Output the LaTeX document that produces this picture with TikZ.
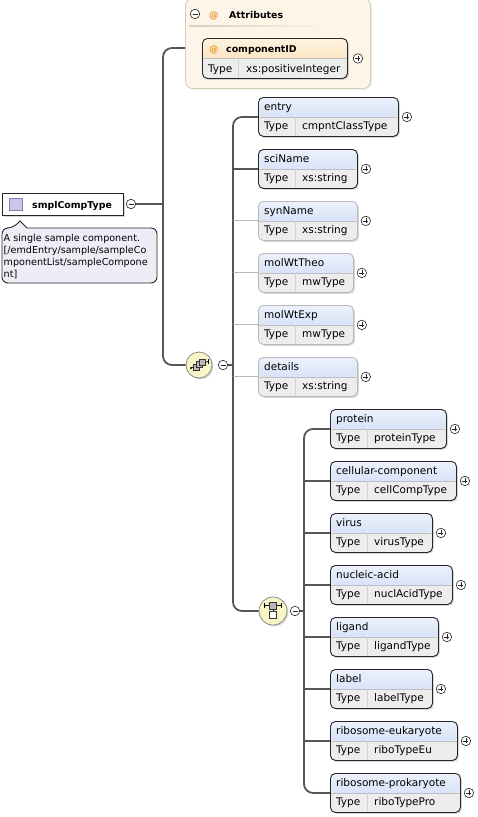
\documentclass[tikz,border=0pt]{standalone}
\usepackage{fontspec}
\setmainfont{DejaVu Sans}
\usetikzlibrary{shadows}
\definecolor{hdtop}{HTML}{EDF2FC}
\definecolor{hdbot}{HTML}{C3D5F2}
\definecolor{rowg}{HTML}{EDEDED}
\definecolor{divg}{HTML}{D2D2D2}
\definecolor{atop}{HTML}{FEF4E3}
\definecolor{abot}{HTML}{F9D7A0}
\definecolor{attrfill}{HTML}{FCF5E8}
\definecolor{attrline}{HTML}{D8CDB8}
\definecolor{orangeat}{HTML}{E8962A}
\definecolor{icofill}{HTML}{FAF5C6}
\definecolor{annfill}{HTML}{EEECF6}
\definecolor{purp}{HTML}{CEC3EA}
\definecolor{purpl}{HTML}{8A7BB5}
\definecolor{lineg}{HTML}{555555}
\definecolor{optl}{HTML}{B8B8B8}
\tikzset{
  sh/.style={drop shadow={shadow xshift=1.4pt, shadow yshift=-1.4pt, opacity=0.3}},
  elem/.style={draw=black!85, line width=0.9pt, rounded corners=5pt, minimum height=39pt,
    inner sep=0pt, anchor=north west, fill=rowg, sh,
    path picture={
      \shade[top color=hdtop, bottom color=hdbot] ([yshift=1pt]path picture bounding box.north west) rectangle ([yshift=-19.5pt]path picture bounding box.north east);
      \draw[black!25, line width=0.5pt] ([yshift=-19.5pt]path picture bounding box.north west) -- ([yshift=-19.5pt]path picture bounding box.north east);
      \draw[divg, line width=0.7pt] ([xshift=37pt,yshift=-19.5pt]path picture bounding box.north west) -- ([xshift=37pt]path picture bounding box.south west);
    }},
  optelem/.style={elem, draw=optl, line width=0.8pt},
  attrel/.style={draw=black!85, line width=0.9pt, rounded corners=5pt, minimum height=40pt,
    inner sep=0pt, anchor=north west, fill=rowg, sh,
    path picture={
      \shade[top color=atop, bottom color=abot] ([yshift=1pt]path picture bounding box.north west) rectangle ([yshift=-20pt]path picture bounding box.north east);
      \draw[black!25, line width=0.5pt] ([yshift=-20pt]path picture bounding box.north west) -- ([yshift=-20pt]path picture bounding box.north east);
      \draw[divg, line width=0.7pt] ([xshift=36pt,yshift=-20pt]path picture bounding box.north west) -- ([xshift=36pt]path picture bounding box.south west);
    }},
  hd/.style={anchor=base west, inner sep=0pt, font=\fontsize{10.5}{12}\selectfont, text=black},
  hdb/.style={anchor=base west, inner sep=0pt, font=\fontsize{9.4}{12}\selectfont\bfseries, text=black},
  pm/.style={circle, draw=black!85, line width=0.6pt, fill=white, minimum size=9.5pt, inner sep=0pt},
  plus/.style={pm, path picture={\draw[line width=0.6pt]
      ([xshift=-2.5pt]path picture bounding box.center) -- ([xshift=2.5pt]path picture bounding box.center)
      ([yshift=-2.5pt]path picture bounding box.center) -- ([yshift=2.5pt]path picture bounding box.center);}},
  minus/.style={pm, path picture={\draw[line width=0.6pt]
      ([xshift=-2.5pt]path picture bounding box.center) -- ([xshift=2.5pt]path picture bounding box.center);}},
  conn/.style={draw=lineg, line width=1.8pt},
  optconn/.style={draw=optl, line width=0.9pt},
  icon/.style={circle, draw=black!45, line width=0.8pt, fill=icofill, inner sep=0pt, sh},
  sq/.style={fill=gray!55, draw=black!80, line width=0.5pt},
}
\newcommand{\xelem}[7]{%
  \node[#1, minimum width=#5pt] (#2) at (#3,#4) {};
  \node[hd] at ([xshift=6pt,yshift=-13.5pt]#2.north west) {#6};
  \node[hd] at ([xshift=6pt,yshift=-32.5pt]#2.north west) {Type};
  \node[hd] at ([xshift=44pt,yshift=-32.5pt]#2.north west) {#7};
  \node[plus] (#2p) at ([xshift=8pt]#2.east) {};
}
\begin{document}
\begin{tikzpicture}[x=1pt,y=-1pt]
\useasboundingbox (0,0) rectangle (478,817);
\fill[white] (0,0) rectangle (478,817);

% Attributes container
\node[draw=attrline, fill=attrfill, line width=0.9pt, rounded corners=7pt, minimum width=185pt,
  minimum height=90pt, anchor=north west, inner sep=0pt,
  drop shadow={shadow xshift=1.3pt, shadow yshift=-1.3pt, opacity=0.12}] (attr) at (185,-2) {};
\node[minus] (attrm) at (195,14) {};
\node[hdb, text=orangeat] at (209,18) {@};
\node[hdb] at (229,18) {Attributes};
\shade[left color=attrline, right color=attrfill] (189,25) rectangle (326,26.2);

% componentID
\node[attrel, minimum width=145pt] (cid) at (202,38) {};
\node[hdb, text=orangeat] at (209,52) {@};
\node[hdb] at (226,52) {componentID};
\node[hd] at (208,72.5) {Type};
\node[hd] at (246,72.5) {xs:positiveInteger};
\node[plus] (cidp) at ([xshift=10pt]cid.east) {};

% root
\node[draw=black!85, line width=0.9pt, fill=white, minimum width=121pt, minimum height=22pt,
  anchor=north west, inner sep=0pt, sh] (root) at (2,193) {};
\node[draw=purpl, fill=purp, line width=0.6pt, minimum size=12.5pt, inner sep=0pt] (rooticon) at (16,204.5) {};
\node[hdb] at (32,208.5) {smplCompType};
\node[minus] (rootm) at (131,204) {};

% annotation
\draw[draw=black!85, fill=annfill, line width=0.9pt, rounded corners=6pt]
  (2,255) -- (2,228) -- (13,228) [sharp corners] -- (20,221) -- (27,228) [rounded corners=6pt]
  -- (157,228) -- (157,283) -- (2,283) -- cycle;
\node[anchor=north west, inner sep=0pt, align=left, font=\fontsize{9.6}{12}\selectfont, text=black] (ann) at (3.5,234)
  {A single sample component.\\ {[}/emdEntry/sample/sampleCo\\ mponentList/sampleCompone\\ nt{]}};

% sequence icon
\node[icon, minimum size=26pt] (seq) at (199,365) {};
\begin{scope}[shift={(seq.center)}]
  \draw[line width=0.7pt] (-8,3) -- (9,-3.5);
  \fill (-8,3) circle (1.2);
  \draw[line width=0.7pt] (9,-6) -- (9,-1);
  \filldraw[sq] (-6,-1) rectangle (0,5);
  \filldraw[sq] (-3,-3.5) rectangle (3,2.5);
  \filldraw[sq] (0,-6) rectangle (6,0);
\end{scope}
\node[minus] (seqm) at (223,365) {};

% choice icon
\node[icon, minimum size=28pt] (choice) at (273,611) {};
\begin{scope}[shift={(choice.center)}]
  \draw[line width=0.7pt] (-8.5,-5.5) -- (8.5,-5.5);
  \draw[line width=0.7pt] (-8.5,-8) -- (-8.5,-3) (8.5,-8) -- (8.5,-3);
  \draw[line width=0.7pt] (0,-2) -- (0,0.5);
  \filldraw[sq] (-3.3,-8.8) rectangle (3.3,-2.2);
  \filldraw[fill=white, draw=black!80, line width=0.6pt] (-3.3,0.5) rectangle (3.3,7);
\end{scope}
\node[minus] (choicem) at (295,611) {};

% sequence children
\xelem{elem}{entry}{258}{97}{140}{entry}{cmpntClassType}
\xelem{elem}{sciName}{258}{149}{99}{sciName}{xs:string}
\xelem{optelem}{synName}{258}{201}{99}{synName}{xs:string}
\xelem{optelem}{molWtTheo}{258}{253}{95}{molWtTheo}{mwType}
\xelem{optelem}{molWtExp}{258}{305}{95}{molWtExp}{mwType}
\xelem{optelem}{details}{258}{357}{99}{details}{xs:string}

% choice children
\xelem{elem}{protein}{330}{409}{116}{protein}{proteinType}
\xelem{elem}{cellcomp}{330}{461}{126}{cellular-component}{cellCompType}
\xelem{elem}{virus}{330}{513}{102}{virus}{virusType}
\xelem{elem}{nucl}{330}{565}{122}{nucleic-acid}{nuclAcidType}
\xelem{elem}{ligand}{330}{617}{108}{ligand}{ligandType}
\xelem{elem}{label}{330}{669}{102}{label}{labelType}
\xelem{elem}{riboeu}{330}{721}{127}{ribosome-eukaryote}{riboTypeEu}
\xelem{elem}{ribopro}{330}{773}{130}{ribosome-prokaryote}{riboTypePro}

% connectors
\coordinate (rb) at (163,204);
\coordinate (attrin) at (185,48);
\draw[conn] (rootm.east) -- (rb);
\draw[conn, rounded corners=9pt] (attrin) -- (rb |- attrin) -- (rb |- seq.west) -- (seq.west);

\coordinate (sb) at (233,365);
\draw[conn] (seqm.east) -- (sb);
\draw[conn, rounded corners=9pt] (entry.west) -- (sb |- entry.west) -- (sb |- choice.west) -- (choice.west);
\draw[conn] (sb |- sciName.west) -- (sciName.west);
\draw[optconn] (sb |- synName.west) -- (synName.west);
\draw[optconn] (sb |- molWtTheo.west) -- (molWtTheo.west);
\draw[optconn] (sb |- molWtExp.west) -- (molWtExp.west);
\draw[optconn] (sb |- details.west) -- (details.west);

\coordinate (cb) at (304,611);
\draw[conn] (choicem.east) -- (cb);
\draw[conn, rounded corners=9pt] (protein.west) -- (cb |- protein.west) -- (cb |- ribopro.west) -- (ribopro.west);
\foreach \n in {cellcomp,virus,nucl,ligand,label,riboeu}
  \draw[conn] (cb |- \n.west) -- (\n.west);
\end{tikzpicture}
\end{document}
